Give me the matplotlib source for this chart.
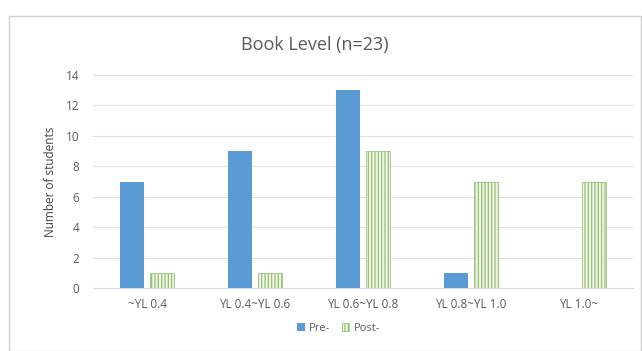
import numpy as np
import matplotlib.pyplot as plt
from matplotlib.patches import Rectangle

categories = ['~YL 0.4', 'YL 0.4~YL 0.6', 'YL 0.6~YL 0.8', 'YL 0.8~YL 1.0', 'YL 1.0~']
pre = [7, 9, 13, 1, 0]
post = [1, 1, 9, 7, 7]

plt.rcParams['font.family'] = ['Open Sans', 'DejaVu Sans']
plt.rcParams['hatch.linewidth'] = 0.8

fig = plt.figure(figsize=(6.42, 3.51), dpi=100)
fig.patches.append(Rectangle((9 / 642, 0), 632 / 642, 1 - 16 / 351, transform=fig.transFigure,
                             fill=False, edgecolor='#d0d0d0', linewidth=1))
ax = fig.add_axes([93 / 642, 1 - 288 / 351, 540 / 642, 213 / 351])

x = np.arange(len(categories))
w = 0.22
ax.bar(x - 0.14, pre, w, color='#5b9bd5', label='Pre-', zorder=3)
ax.bar(x + 0.14, post, w, color='#eef5e6', edgecolor='#8dbb68', hatch='|||||',
       linewidth=0.5, label='Post-', zorder=3)

ax.set_xlim(-0.5, 4.5)
ax.set_ylim(0, 14)
ax.set_yticks(range(0, 15, 2))
ax.set_xticks(x)
ax.set_xticklabels(categories)
ax.tick_params(length=0, labelsize=8.5, colors='#595959', pad=7)
ax.tick_params(axis='y', pad=10)
ax.grid(axis='y', color='#e0e0e0', linewidth=0.8, zorder=0)
for s in ['top', 'right', 'left']:
    ax.spines[s].set_visible(False)
ax.spines['bottom'].set_color('#d9d9d9')
ax.set_ylabel('Number of students', fontsize=8.5, color='#404040', labelpad=6)

fig.text(0.49, 1 - 45 / 351, 'Book Level (n=23)', ha='center', va='center', fontsize=13, color='#595959')

ax.legend(loc='center', bbox_to_anchor=(0.455, -0.19), ncol=2, frameon=False, fontsize=8,
          labelcolor='#595959', handlelength=0.7, handleheight=0.7, columnspacing=1.0, handletextpad=0.4)

fig.savefig('out.png', dpi=100)
